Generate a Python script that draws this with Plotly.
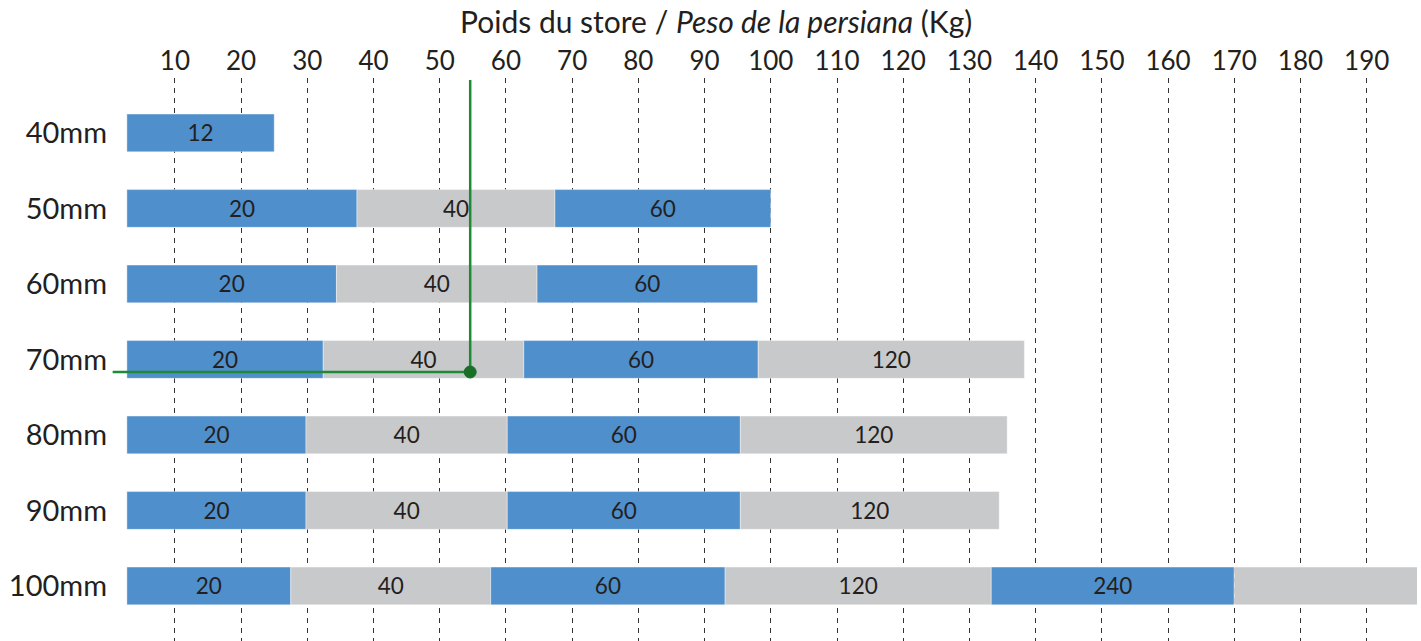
import plotly.graph_objects as go

# ---------------- data ----------------
tubes = ["40mm", "50mm", "60mm", "70mm", "80mm", "90mm", "100mm"]
bar_start_kg = 2.75
segment_ends_kg = [
    [25.0],
    [37.5, 67.4, 100.0],
    [34.4, 64.7, 98.0],
    [32.4, 62.7, 98.1, 138.3],
    [29.8, 60.2, 95.4, 135.7],
    [29.8, 60.2, 95.4, 134.5],
    [27.5, 57.7, 93.1, 133.3, 170.0, 200.0],
]
torque_labels = [
    ["12"],
    ["20", "40", "60"],
    ["20", "40", "60"],
    ["20", "40", "60", "120"],
    ["20", "40", "60", "120"],
    ["20", "40", "60", "120"],
    ["20", "40", "60", "120", "240", ""],
]
x_ticks = list(range(10, 200, 10))
x_range = [0.35, 197.6]

# example reading (green guide)
example_weight_kg = 54.6
example_tube_index = 3      # 70mm
example_row_offset = 0.166  # below bar centre
example_line_left_kg = 0.6

# ---------------- style ----------------
BLUE = "#4F8FCC"
GREY = "#C8C9CB"
TEXT = "#231F20"
GREEN = "#1F8A35"
DOT = "#1B6E27"
FONT = "Lato"

fig = go.Figure()

max_segs = max(len(s) for s in segment_ends_kg)
for k in range(max_segs):
    ys, xs, bases, texts = [], [], [], []
    for tube, ends, labels in zip(tubes, segment_ends_kg, torque_labels):
        if k < len(ends):
            start = bar_start_kg if k == 0 else ends[k - 1]
            ys.append(tube)
            bases.append(start)
            xs.append(ends[k] - start)
            texts.append(labels[k])
    fig.add_trace(go.Bar(
        orientation="h", y=ys, x=xs, base=bases, text=texts,
        textposition="inside", insidetextanchor="middle", textangle=0,
        textfont=dict(family=FONT, size=22.5, color=TEXT),
        marker=dict(color=BLUE if k % 2 == 0 else GREY,
                    line=dict(color="rgba(255,255,255,0.5)", width=0.8)),
        width=0.5, showlegend=False, hoverinfo="skip",
    ))

ex_y = example_tube_index + example_row_offset
shapes = [
    dict(type="line", xref="x", yref="y", x0=example_weight_kg, x1=example_weight_kg,
         y0=-0.70, y1=ex_y, line=dict(color=GREEN, width=2.5), layer="above"),
    dict(type="line", xref="x", yref="y", x0=example_line_left_kg, x1=example_weight_kg,
         y0=ex_y, y1=ex_y, line=dict(color=GREEN, width=2.5), layer="above"),
    dict(type="circle", xref="x", yref="y", xsizemode="pixel", ysizemode="pixel",
         xanchor=example_weight_kg, yanchor=ex_y, x0=-6, x1=6, y0=-6, y1=6,
         fillcolor=DOT, line=dict(color=DOT, width=1), layer="above"),
]

fig.update_layout(
    width=1421, height=641,
    margin=dict(l=111, r=4, t=78, b=0),
    paper_bgcolor="white", plot_bgcolor="white",
    barmode="overlay",
    shapes=shapes,
    font=dict(family=FONT, color=TEXT),
    title=dict(text="Poids du store / <i>Peso de la persiana</i> (Kg)",
               xref="container", yref="container", x=0.504, y=1 - 22 / 641,
               xanchor="center", yanchor="middle",
               font=dict(family=FONT, size=30, color=TEXT)),
    xaxis=dict(side="top", range=x_range, tickmode="array", tickvals=x_ticks,
               ticktext=[str(v) for v in x_ticks], automargin=False,
               showgrid=True, gridcolor="#333333", gridwidth=1.3, griddash="5px,5px",
               zeroline=False, showline=False, ticks="", ticklabelstandoff=2,
               tickfont=dict(family=FONT, size=26, color=TEXT)),
    yaxis=dict(type="category", categoryorder="array", categoryarray=tubes,
               range=[6.729, -0.728], showgrid=False, zeroline=False, showline=False,
               automargin=False, ticks="", ticklabelstandoff=3,
               tickfont=dict(family=FONT, size=29, color=TEXT)),
)

fig.write_html("out.html", config={"displayModeBar": False},
               post_script="document.body.style.margin='0';")
